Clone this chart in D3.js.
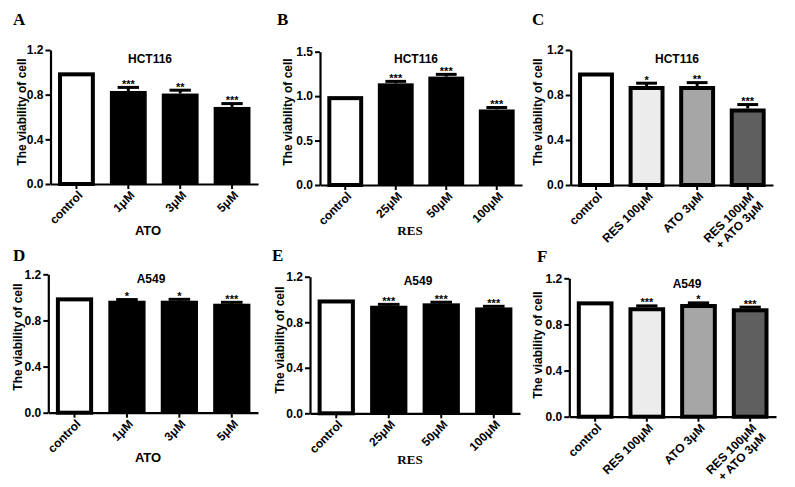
<!DOCTYPE html>
<html><head><meta charset="utf-8">
<script src="https://cdn.jsdelivr.net/npm/d3@7"></script>
<style>body{margin:0;background:#fff} svg{display:block}</style>
</head><body>
<svg id="c" width="795" height="487"></svg>
<script>
const catsATO = ["control","1μM","3μM","5μM"];
const catsRES = ["control","25μM","50μM","100μM"];
const catsCombo = ["control","RES 100μM","ATO 3μM","RES 100μM|+ ATO 3μM"];
const ticks12 = [0.0,0.4,0.8,1.2];
const ticks15 = [0.0,0.5,1.0,1.5];
const valA = [1.00,0.833,0.81,0.69];
const errA = [0,0.032,0.03,0.03];
const sigA = ["","***","**","***"];
const valB = [1.00,1.144,1.22,0.85];
const errB = [0,0.022,0.025,0.022];
const sigB = ["","***","***","***"];
const valC = [1.00,0.88,0.88,0.68];
const errC = [0,0.025,0.03,0.035];
const sigC = ["","*","**","***"];
const valD = [1.00,0.971,0.971,0.945];
const errD = [0,0.01,0.012,0.012];
const sigD = ["","*","*","***"];
const valE = [1.00,0.945,0.966,0.93];
const errE = [0,0.012,0.01,0.01];
const sigE = ["","***","***","***"];
const valF = [1.00,0.949,0.977,0.94];
const errF = [0,0.012,0.01,0.01];
const sigF = ["","***","*","***"];
const fillsDose = ["#ffffff","#000000","#000000","#000000"];
const fillsCombo = ["#ffffff","#ececec","#a6a6a6","#5f5f5f"];

const panels = [
 {L:"A",lx:13,ly:25,x0:50.5,x1:258,y0:184,yT:50,ymax:1.2,ticks:ticks12,cats:catsATO,vals:valA,errs:errA,sig:sigA,fills:fillsDose,title:"HCT116",tx:150,ty:63,yx:22,yy:112,xt:"ATO",xserif:false,xtx:148,xty:235},
 {L:"B",lx:277,ly:25,x0:320,x1:522,y0:185,yT:51.7,ymax:1.5,ticks:ticks15,cats:catsRES,vals:valB,errs:errB,sig:sigB,fills:fillsDose,title:"HCT116",tx:416,ty:63,yx:288,yy:112,xt:"RES",xserif:true,xtx:410,xty:235},
 {L:"C",lx:532,ly:25,x0:570.7,x1:773,y0:185,yT:50,ymax:1.2,ticks:ticks12,cats:catsCombo,vals:valC,errs:errC,sig:sigC,fills:fillsCombo,title:"HCT116",tx:677,ty:63,yx:538,yy:112,xt:null},
 {L:"D",lx:13,ly:261,x0:48.3,x1:258,y0:412.7,yT:274.3,ymax:1.2,ticks:ticks12,cats:catsATO,vals:valD,errs:errD,sig:sigD,fills:fillsDose,title:"A549",tx:151,ty:283,yx:18,yy:337,xt:"ATO",xserif:false,xtx:148,xty:462},
 {L:"E",lx:272,ly:261,x0:310,x1:520,y0:413.3,yT:276.7,ymax:1.2,ticks:ticks12,cats:catsRES,vals:valE,errs:errE,sig:sigE,fills:fillsDose,title:"A549",tx:418,ty:285,yx:280,yy:340,xt:"RES",xserif:true,xtx:410,xty:464},
 {L:"F",lx:537,ly:262,x0:569.3,x1:776,y0:416.7,yT:278.3,ymax:1.2,ticks:ticks12,cats:catsCombo,vals:valF,errs:errF,sig:sigF,fills:fillsCombo,title:"A549",tx:687,ty:288,yx:538,yy:345,xt:null}
];

const svg = d3.select("#c");
const SANS = "Arial, 'Liberation Sans', Helvetica, sans-serif";
const SERIF = "'Times New Roman', 'Liberation Serif', serif";

panels.forEach(p => {
  const g = svg.append("g");
  const x = d3.scaleBand().domain(p.cats).range([p.x0, p.x1]).paddingInner(0.29).paddingOuter(0.145);
  const y = d3.scaleLinear().domain([0, p.ymax]).range([p.y0, p.yT]);
  const bw = x.bandwidth();

  p.cats.forEach((c, i) => {
    const v = p.vals[i], f = p.fills[i];
    const outlined = f !== "#000000";
    if (outlined) {
      g.append("rect").attr("x", x(c) + 2).attr("y", y(v) + 2)
        .attr("width", bw - 4).attr("height", p.y0 - y(v) - 2)
        .attr("fill", f).attr("stroke", "#000").attr("stroke-width", 4);
    } else {
      g.append("rect").attr("x", x(c)).attr("y", y(v))
        .attr("width", bw).attr("height", p.y0 - y(v)).attr("fill", f);
    }
    const e = p.errs[i];
    if (e > 0) {
      const cx = x(c) + bw / 2, ye = y(v + e);
      g.append("line").attr("x1", cx).attr("x2", cx).attr("y1", y(v)).attr("y2", ye)
        .attr("stroke", "#000").attr("stroke-width", 3);
      g.append("line").attr("x1", cx - bw * 0.29).attr("x2", cx + bw * 0.29).attr("y1", ye).attr("y2", ye)
        .attr("stroke", "#000").attr("stroke-width", 3);
    }
    if (p.sig[i]) {
      g.append("text").attr("x", x(c) + bw / 2).attr("y", y(v + e) + 0.5)
        .attr("text-anchor", "middle").attr("font-family", SANS).attr("font-weight", "bold")
        .attr("font-size", 11).text(p.sig[i]);
    }
  });

  const ya = g.append("g").attr("transform", `translate(${p.x0},0)`)
    .call(d3.axisLeft(y).tickValues(p.ticks).tickFormat(d3.format(".1f")).tickSize(5).tickSizeOuter(0).tickPadding(2));
  ya.select(".domain").attr("stroke-width", 2.2);
  ya.selectAll(".tick line").attr("stroke-width", 2);
  ya.selectAll("text").attr("font-family", SANS).attr("font-weight", "bold").attr("font-size", 12).attr("fill", "#000");

  const xa = g.append("g").attr("transform", `translate(0,${p.y0})`)
    .call(d3.axisBottom(x).tickSize(5).tickSizeOuter(0).tickFormat(""));
  xa.select(".domain").attr("stroke-width", 2.2);
  xa.selectAll(".tick line").attr("stroke-width", 2);

  p.cats.forEach(c => {
    const cx = x(c) + bw / 2;
    const lines = c.split("|");
    const t = g.append("text")
      .attr("transform", `translate(${cx + 4},${p.y0 + 9}) rotate(-45)`)
      .attr("text-anchor", "end").attr("font-family", SANS).attr("font-weight", "bold")
      .attr("font-size", 12);
    lines.forEach((ln, k) => {
      t.append("tspan").attr("x", 0).attr("dy", k === 0 ? "0.35em" : "1.1em").text(ln);
    });
  });

  g.append("text").attr("x", p.tx).attr("y", p.ty).attr("text-anchor", "middle")
    .attr("font-family", SANS).attr("font-weight", "bold").attr("font-size", 12).text(p.title);
  g.append("text").attr("transform", `translate(${p.yx},${p.yy}) rotate(-90)`)
    .attr("text-anchor", "middle").attr("dy", "0.35em")
    .attr("font-family", SANS).attr("font-weight", "bold").attr("font-size", 12).text("The viability of cell");
  if (p.xt) {
    g.append("text").attr("x", p.xtx).attr("y", p.xty).attr("text-anchor", "middle")
      .attr("font-family", p.xserif ? SERIF : SANS).attr("font-weight", "bold")
      .attr("font-size", 13).text(p.xt);
  }
  g.append("text").attr("x", p.lx).attr("y", p.ly)
    .attr("font-family", SERIF).attr("font-weight", "bold").attr("font-size", 17).text(p.L);
});
</script>
</body></html>
